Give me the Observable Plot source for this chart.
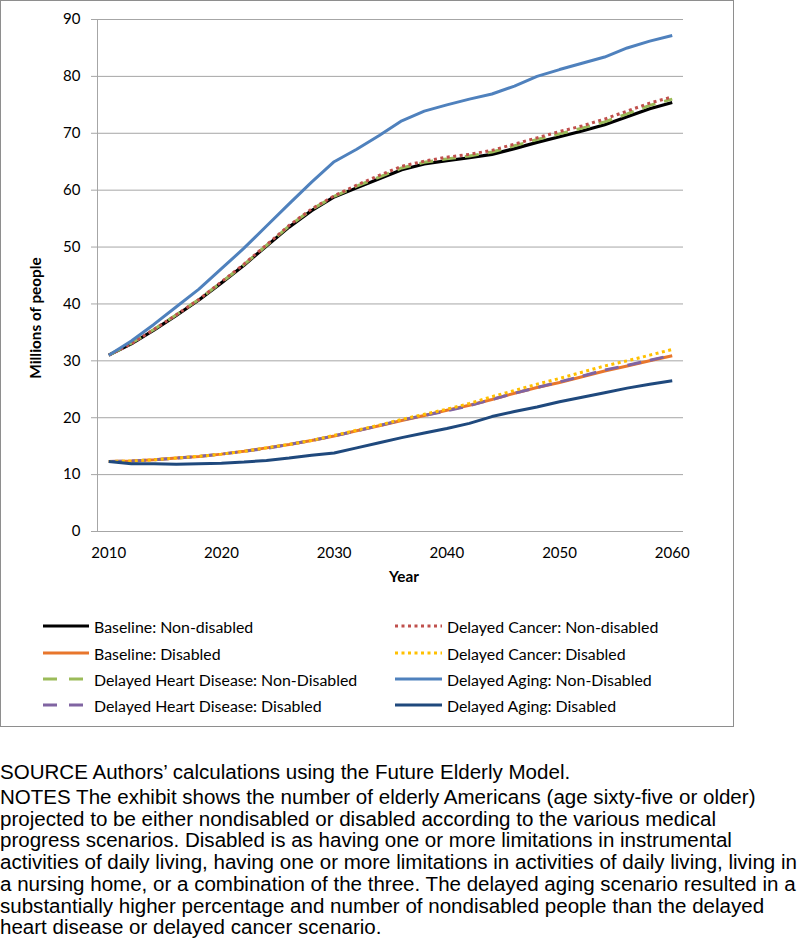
<!DOCTYPE html>
<html><head><meta charset="utf-8">
<script src="https://cdn.jsdelivr.net/npm/d3@7"></script>
<script src="https://cdn.jsdelivr.net/npm/@observablehq/plot@0.6"></script>
<style>
body{margin:0;background:#fff;}
#wrap{position:relative;width:800px;height:938px;overflow:hidden;background:#fff;}
#box{position:absolute;left:0;top:0;width:734px;height:727px;border:1px solid #8e8e8e;box-sizing:border-box;}
#chart{position:absolute;left:0;top:0;}
.atitle{position:absolute;font-family:Lato,sans-serif;font-weight:bold;font-size:15.3px;color:#000;white-space:nowrap;}
#ytitle{left:35px;top:318px;transform:translate(-50%,-50%) rotate(-90deg);}
#xtitle{left:404px;top:576px;transform:translate(-50%,-50%);}
.leg{position:absolute;font-family:Lato,sans-serif;font-size:15.9px;color:#000;white-space:nowrap;display:flex;align-items:center;height:20px;}
.leg svg{margin-right:5px;}
#foot{position:absolute;left:0;top:762px;font-family:"Liberation Sans",Arial,sans-serif;font-size:19.5px;line-height:21.7px;color:#000;transform-origin:0 0;}
#foot div{white-space:nowrap;}
#foot span{display:inline-block;}
</style></head>
<body><div id="wrap"><div id="box"></div><div id="chart"></div>
<div class="atitle" id="ytitle">Millions of people</div>
<div class="atitle" id="xtitle">Year</div>
<div id="legend"></div>
<div id="foot"></div>
</div>
<script>
const years = [2010,2012,2014,2016,2018,2020,2022,2024,2026,2028,2030,2032,2034,2036,2038,2040,2042,2044,2046,2048,2050,2052,2054,2056,2058,2060];
const baselineNonDisabled = [31.0,33.0,35.4,38.0,40.7,43.7,46.8,50.2,53.5,56.4,58.8,60.4,62.0,63.6,64.6,65.2,65.7,66.3,67.3,68.4,69.4,70.4,71.5,72.9,74.3,75.4];
const baselineDisabled = [12.3,12.4,12.6,12.9,13.2,13.6,14.1,14.7,15.3,16.0,16.8,17.7,18.6,19.5,20.4,21.3,22.2,23.2,24.3,25.3,26.2,27.2,28.2,29.1,30.0,30.9];
const heartNonDisabled = [31.0,33.1,35.5,38.1,40.8,43.8,46.9,50.3,53.7,56.6,58.9,60.7,62.3,63.9,64.9,65.5,66.0,66.7,67.8,68.9,69.9,70.9,72.0,73.4,74.9,76.0];
const heartDisabled = [12.3,12.4,12.6,12.9,13.2,13.6,14.1,14.6,15.3,16.0,16.8,17.7,18.6,19.6,20.4,21.2,22.1,23.2,24.3,25.3,26.3,27.3,28.4,29.2,30.1,31.0];
const cancerNonDisabled = [31.0,33.0,35.5,38.1,40.8,43.9,47.0,50.4,53.8,56.7,59.0,60.9,62.6,64.2,65.1,65.8,66.3,67.0,68.1,69.2,70.3,71.3,72.5,73.9,75.3,76.4];
const cancerDisabled = [12.3,12.4,12.6,12.9,13.2,13.6,14.1,14.7,15.3,16.0,16.9,17.8,18.7,19.7,20.6,21.5,22.5,23.7,24.8,25.9,26.9,28.0,29.1,30.0,31.0,32.0];
const agingNonDisabled = [31.0,33.5,36.4,39.5,42.6,46.2,49.8,53.7,57.6,61.4,65.0,67.2,69.6,72.2,73.9,75.0,76.0,76.9,78.3,80.0,81.2,82.3,83.4,85.0,86.2,87.2];
const agingDisabled = [12.3,11.9,11.9,11.8,11.9,12.0,12.2,12.5,12.9,13.4,13.8,14.7,15.6,16.5,17.3,18.1,19.0,20.2,21.1,21.9,22.8,23.6,24.4,25.2,25.9,26.5];

const seriesNames = ["Baseline: Non-disabled","Baseline: Disabled","Delayed Heart Disease: Non-Disabled","Delayed Heart Disease: Disabled","Delayed Cancer: Non-disabled","Delayed Cancer: Disabled","Delayed Aging: Non-Disabled","Delayed Aging: Disabled"];
const seriesValues = [baselineNonDisabled,baselineDisabled,heartNonDisabled,heartDisabled,cancerNonDisabled,cancerDisabled,agingNonDisabled,agingDisabled];
const xTicks = [2010,2020,2030,2040,2050,2060];
const yTicks = [0,10,20,30,40,50,60,70,80,90];
const legendLeft = [0,1,2,3];
const legendRight = [4,5,6,7];

const styles = [
  {stroke:"#000000", width:3.2, dash:null},
  {stroke:"#E8762C", width:3, dash:null},
  {stroke:"#9BBB59", width:3, dash:"14,9"},
  {stroke:"#8064A2", width:3, dash:"14,9"},
  {stroke:"#C0504D", width:3, dash:"3,3.5"},
  {stroke:"#FFC000", width:3, dash:"3,3.5"},
  {stroke:"#4F81BD", width:3, dash:null},
  {stroke:"#1F497D", width:3, dash:null}
];
const drawOrder = [0,1,2,3,4,5,6,7];

const rows = [];
seriesNames.forEach((name,i)=>seriesValues[i].forEach((v,j)=>rows.push({year:years[j], value:v, series:name})));

const lineMarks = drawOrder.map(i=>Plot.line(rows.filter(d=>d.series===seriesNames[i]), {
  x:"year", y:"value", stroke:styles[i].stroke, strokeWidth:styles[i].width,
  strokeDasharray:styles[i].dash||undefined, strokeLinecap:"butt", strokeLinejoin:"round"
}));

const chart = Plot.plot({
  width:733, height:596,
  marginLeft:97, marginRight:50, marginTop:19, marginBottom:65,
  style:{fontFamily:"Lato, sans-serif", fontSize:"15px", color:"#000", background:"transparent"},
  x:{domain:[2009,2061], label:null},
  y:{domain:[0,90], label:null},
  marks:[
    Plot.ruleY(yTicks, {stroke:"#a6a6a6", strokeWidth:1}),
    Plot.ruleX([2009], {stroke:"#a6a6a6", strokeWidth:1}),
    Plot.axisY({ticks:yTicks, tickSize:6, tickPadding:11, stroke:"#a6a6a6", fill:"#000", label:null}),
    Plot.axisX({ticks:xTicks, tickSize:0, tickPadding:16, tickFormat:"d", fill:"#000", label:null}),
    ...lineMarks
  ]
});
document.getElementById("chart").appendChild(chart);

// legend
const legend = document.getElementById("legend");
const rowY = [626,653,679,705];
function addItem(i, left, swW, textLeft, y){
  const s = styles[i];
  const div = document.createElement("div");
  div.className = "leg";
  div.style.left = left+"px";
  div.style.top = (y-10)+"px";
  const svgNS = "http://www.w3.org/2000/svg";
  const svg = document.createElementNS(svgNS,"svg");
  svg.setAttribute("width", textLeft-left-5);
  svg.setAttribute("height", 20);
  const ln = document.createElementNS(svgNS,"line");
  ln.setAttribute("x1",0); ln.setAttribute("x2",swW); ln.setAttribute("y1",10); ln.setAttribute("y2",10);
  ln.setAttribute("stroke", s.stroke); ln.setAttribute("stroke-width", s.width);
  if (s.dash) ln.setAttribute("stroke-dasharray", s.dash==="14,9" ? "14,12" : s.dash);
  svg.appendChild(ln);
  div.appendChild(svg);
  const t = document.createElement("span");
  t.textContent = seriesNames[i];
  div.appendChild(t);
  legend.appendChild(div);
}
legendLeft.forEach((i,k)=>addItem(i, 43, 46, 94, rowY[k]));
legendRight.forEach((i,k)=>addItem(i, 395, 47, 447, rowY[k]));

// footer
const sourceLine = "SOURCE Authors\u2019 calculations using the Future Elderly Model.";
const notesLines = [
 "NOTES The exhibit shows the number of elderly Americans (age sixty-five or older)",
 "projected to be either nondisabled or disabled according to the various medical",
 "progress scenarios. Disabled is as having one or more limitations in instrumental",
 "activities of daily living, having one or more limitations in activities of daily living, living in",
 "a nursing home, or a combination of the three. The delayed aging scenario resulted in a",
 "substantially higher percentage and number of nondisabled people than the delayed",
 "heart disease or delayed cancer scenario."
];
const foot = document.getElementById("foot");
const spans = [];
function addLine(text, mb){
  const d = document.createElement("div");
  const sp = document.createElement("span");
  sp.textContent = text; d.appendChild(sp);
  if (mb) d.style.marginBottom = mb;
  foot.appendChild(d); spans.push(sp);
}
addLine(sourceLine, "3.3px");
notesLines.forEach(l=>addLine(l));
const maxW = Math.max(...spans.map(s=>s.getBoundingClientRect().width));
foot.style.transform = `scaleX(${797/maxW})`;
</script>
</body></html>
